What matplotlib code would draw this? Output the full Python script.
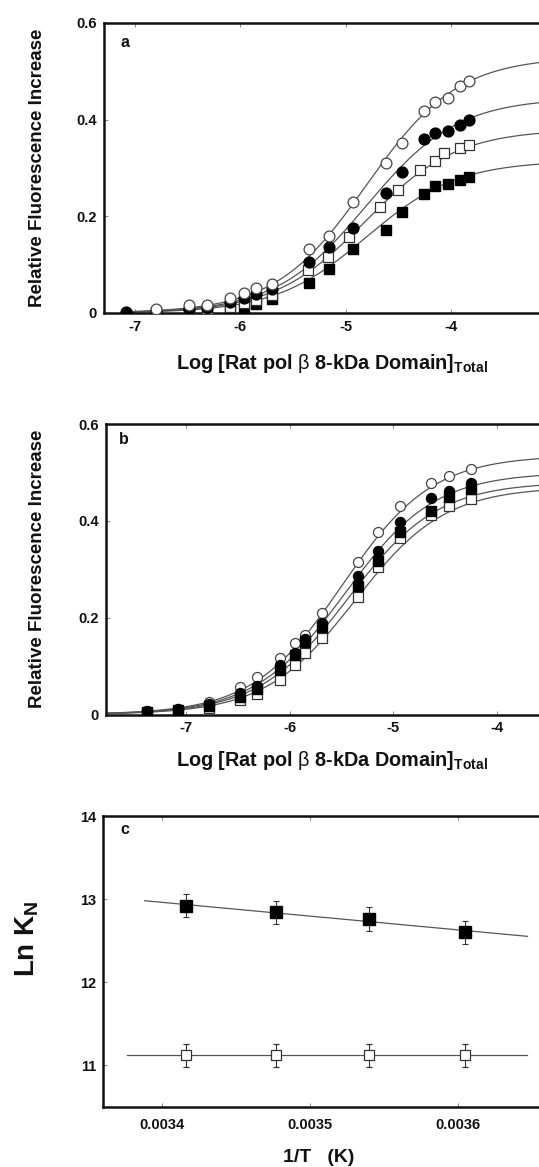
import matplotlib
matplotlib.use("Agg")
import matplotlib.pyplot as plt
import numpy as np

plt.rcParams["font.family"] = ["Liberation Sans", "DejaVu Sans"]
plt.rcParams["axes.unicode_minus"] = False
plt.rcParams["mathtext.fontset"] = "custom"
plt.rcParams["mathtext.rm"] = "Liberation Sans"
plt.rcParams["mathtext.bf"] = "Liberation Sans:bold"

W, H = 539, 1167
INK = "#111111"
CURVE = "#555555"

# ---- panel a: titration at several conditions ----
a_x = [-6.80, -6.49, -6.32, -6.10, -5.96, -5.85, -5.70, -5.35, -5.16, -4.93,
       -4.62, -4.46, -4.25, -4.15, -4.03, -3.91, -3.83]
a_open_circle = [0.008, 0.016, 0.016, 0.032, 0.042, 0.051, 0.061, 0.132, 0.160, 0.230,
                 0.310, 0.351, 0.417, 0.436, 0.444, 0.470, 0.481]
a_filled_circle_x = [-7.09] + a_x
a_filled_circle = [0.003, 0.004, 0.008, 0.010, 0.022, 0.032, 0.040, 0.050, 0.105, 0.137,
                   0.175, 0.248, 0.292, 0.359, 0.373, 0.377, 0.389, 0.399]
a_open_square_x = [-6.80, -6.49, -6.32, -6.10, -5.96, -5.85, -5.70, -5.36, -5.17, -4.97,
                   -4.67, -4.50, -4.29, -4.15, -4.06, -3.91, -3.83]
a_open_square = [0.003, 0.002, 0.005, 0.012, 0.020, 0.027, 0.038, 0.089, 0.116, 0.158,
                 0.219, 0.254, 0.296, 0.314, 0.330, 0.341, 0.347]
a_filled_square = [0.001, 0.001, 0.003, 0.006, 0.008, 0.019, 0.030, 0.063, 0.092, 0.132,
                   0.172, 0.208, 0.246, 0.263, 0.266, 0.275, 0.282]
# fitted isotherms (plateau, log midpoint)
a_fit_open_circle = (0.53, -4.80)
a_fit_filled_circle = (0.445, -4.80)
a_fit_open_square = (0.38, -4.81)
a_fit_filled_square = (0.315, -4.80)

# ---- panel b ----
b_x = [-7.38, -7.08, -6.78, -6.48, -6.31, -6.09, -5.95, -5.85, -5.69, -5.34,
       -5.15, -4.93, -4.63, -4.46, -4.25]
b_open_circle = [0.007, 0.012, 0.026, 0.057, 0.077, 0.116, 0.147, 0.164, 0.210, 0.314,
                 0.376, 0.431, 0.478, 0.492, 0.507]
b_filled_circle = [0.007, 0.011, 0.022, 0.045, 0.059, 0.102, 0.128, 0.155, 0.190, 0.286,
                   0.338, 0.397, 0.448, 0.462, 0.479]
b_filled_square = [0.005, 0.009, 0.018, 0.037, 0.052, 0.092, 0.123, 0.149, 0.181, 0.266,
                   0.318, 0.376, 0.420, 0.450, 0.465]
b_open_square = [0.003, 0.006, 0.013, 0.030, 0.042, 0.071, 0.102, 0.126, 0.157, 0.243,
                 0.305, 0.364, 0.412, 0.430, 0.445]
b_fit_open_circle = (0.535, -5.49)
b_fit_filled_circle = (0.50, -5.466)
b_fit_filled_square = (0.48, -5.434)
b_fit_open_square = (0.47, -5.37)

# ---- panel c: van't Hoff ----
c_x = [0.003416, 0.003477, 0.003540, 0.003605]
c_filled = [12.92, 12.84, 12.76, 12.60]
c_open = [11.12, 11.12, 11.12, 11.12]
c_err = [0.14, 0.14, 0.14, 0.14]
c_filled_line_span = (0.003388, 0.003647)
c_open_line_span = (0.003376, 0.003647)

XLABEL = r"Log [Rat pol $\mathrm{\beta}$ 8-kDa Domain]$_{\mathbf{Total}}$"


def px_axes(fig, left, top, right, bottom):
    return fig.add_axes([left / W, 1 - bottom / H, (right - left) / W, (bottom - top) / H])


def style(ax):
    for s in ax.spines.values():
        s.set_linewidth(1.8)
        s.set_color(INK)
    ax.tick_params(direction="in", length=3, width=0.6, color="#777777",
                   top=True, right=True, labelsize=10.5, labelcolor=INK, pad=5)
    for lab in ax.get_xticklabels() + ax.get_yticklabels():
        lab.set_fontweight("bold")


def isotherm(ax, x0, x1, fit):
    ymax, x50 = fit
    xs = np.linspace(x0, x1, 300)
    ax.plot(xs, ymax / (1 + 10 ** (x50 - xs)), color=CURVE, lw=0.9, zorder=2)


fig = plt.figure(figsize=(W / 100, H / 100), dpi=100)
fig.patch.set_facecolor("white")

# panel a
ax = px_axes(fig, 104, 23, 556, 313)
for fit in (a_fit_open_circle, a_fit_filled_circle, a_fit_open_square, a_fit_filled_square):
    isotherm(ax, -7.1, -3.0, fit)
ax.plot(a_x, a_filled_square, "s", ms=7.3, mfc="black", mec="black", zorder=3)
ax.plot(a_open_square_x, a_open_square, "s", ms=7.3, mfc="white", mec="#333333", mew=0.9, zorder=4)
ax.plot(a_filled_circle_x, a_filled_circle, "o", ms=7.8, mfc="black", mec="black", zorder=5)
ax.plot(a_x, a_open_circle, "o", ms=7.8, mfc="white", mec="#444444", mew=0.9, zorder=6)
ax.set_xlim(-7.295, -3.0)
ax.set_ylim(0, 0.6)
ax.set_xticks([-7, -6, -5, -4])
ax.set_xticklabels(["-7", "-6", "-5", "-4"])
ax.set_yticks([0, 0.2, 0.4, 0.6])
ax.set_yticklabels(["0", "0.2", "0.4", "0.6"])
style(ax)
ax.text(0.046, 0.934, "a", transform=ax.transAxes, fontsize=11.5, fontweight="bold",
        ha="center", va="center", color=INK)

# panel b
ax = px_axes(fig, 105.7, 424, 548.5, 714.5)
for fit in (b_fit_open_circle, b_fit_filled_circle, b_fit_filled_square, b_fit_open_square):
    isotherm(ax, -7.8, -3.5, fit)
ax.plot(b_x, b_open_circle, "o", ms=7.2, mfc="white", mec="#444444", mew=0.9, zorder=3)
ax.plot(b_x, b_open_square, "s", ms=6.8, mfc="white", mec="#333333", mew=0.9, zorder=4)
ax.plot(b_x, b_filled_square, "s", ms=6.8, mfc="black", mec="black", zorder=5)
ax.plot(b_x, b_filled_circle, "o", ms=7.2, mfc="black", mec="black", zorder=6)
ax.set_xlim(-7.775, -3.5)
ax.set_ylim(0, 0.6)
ax.set_xticks([-7, -6, -5, -4])
ax.set_xticklabels(["-7", "-6", "-5", "-4"])
ax.set_yticks([0, 0.2, 0.4, 0.6])
ax.set_yticklabels(["0", "0.2", "0.4", "0.6"])
style(ax)
ax.text(0.042, 0.948, "b", transform=ax.transAxes, fontsize=11.5, fontweight="bold",
        ha="center", va="center", color=INK)

# panel c
ax = px_axes(fig, 103.3, 816, 546.7, 1107)
slope, icpt = np.polyfit(c_x, c_filled, 1)
lx = np.array(c_filled_line_span)
ax.plot(lx, slope * lx + icpt, color=CURVE, lw=0.9, zorder=2)
ax.plot(c_open_line_span, [np.mean(c_open)] * 2, color=CURVE, lw=0.9, zorder=2)
ax.errorbar(c_x, c_filled, yerr=c_err, fmt="s", ms=8, mfc="black", mec="black",
            ecolor="#333333", elinewidth=0.8, capsize=2, capthick=0.8, zorder=4)
ax.errorbar(c_x, c_open, yerr=c_err, fmt="s", ms=7.2, mfc="white", mec="#333333", mew=0.9,
            ecolor="#333333", elinewidth=0.8, capsize=2, capthick=0.8, zorder=4)
ax.set_xlim(0.00336, 0.00366)
ax.set_ylim(10.5, 14)
ax.set_xticks([0.0034, 0.0035, 0.0036])
ax.set_xticklabels(["0.0034", "0.0035", "0.0036"])
ax.set_yticks([11, 12, 13, 14])
ax.set_yticklabels(["11", "12", "13", "14"])
style(ax)
ax.tick_params(axis="x", pad=8)
ax.text(0.049, 0.952, "c", transform=ax.transAxes, fontsize=11.5, fontweight="bold",
        ha="center", va="center", color=INK)

# axis titles
fig.text(38 / W, 1 - 168 / H, "Relative Fluorescence Increase", rotation=90, fontsize=13.5,
         fontweight="bold", ha="center", va="center", color=INK)
fig.text(38 / W, 1 - 569 / H, "Relative Fluorescence Increase", rotation=90, fontsize=13.5,
         fontweight="bold", ha="center", va="center", color=INK)
fig.text(332 / W, 1 - 363 / H, XLABEL, fontsize=14.3, fontweight="bold",
         ha="center", va="center", color=INK)
fig.text(332 / W, 1 - 760 / H, XLABEL, fontsize=14.3, fontweight="bold",
         ha="center", va="center", color=INK)
fig.text(27 / W, 1 - 939 / H, r"Ln K$_{\mathbf{N}}$", rotation=90, fontsize=20,
         fontweight="bold", ha="center", va="center", color=INK)
fig.text(319 / W, 1 - 1157 / H, "1/T   (K)", fontsize=14, fontweight="bold",
         ha="center", va="center", color=INK)

fig.savefig("out.png", dpi=100)
